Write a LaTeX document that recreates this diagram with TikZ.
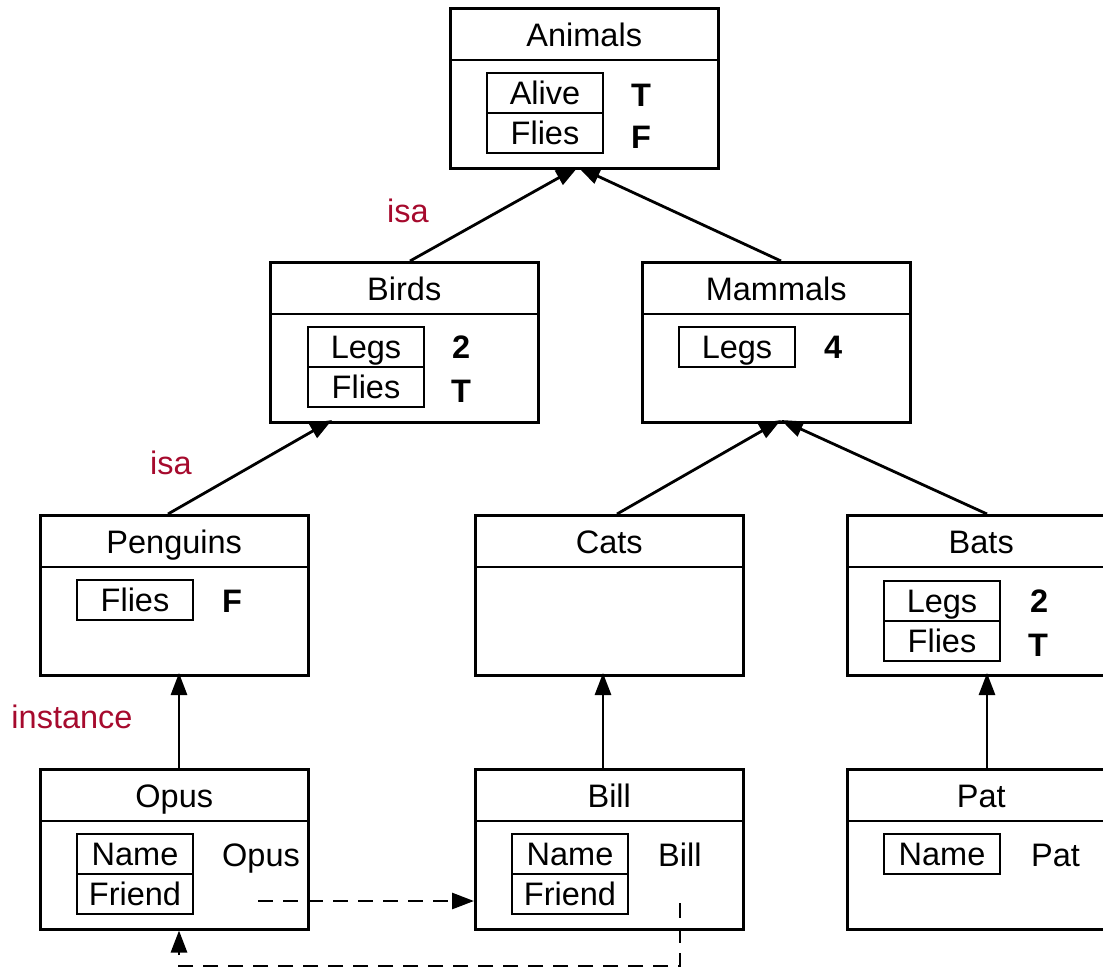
\documentclass[tikz,border=0pt]{standalone}
\usepackage{fontspec}
\setmainfont{Liberation Sans}
\usetikzlibrary{arrows.meta,calc}
\definecolor{isared}{RGB}{166,10,45}
\begin{document}
\begin{tikzpicture}[x=1pt,y=-1pt,
  every node/.style={font=\fontsize{32.5}{38}\selectfont, text height=23pt, text depth=0pt},
  frame/.style={draw, line width=2.5pt, minimum width=268pt, minimum height=160pt, inner sep=0pt, text height=0pt},
  title/.style={anchor=center},
  slot/.style={draw, line width=2pt, minimum width=116pt, minimum height=40pt, inner sep=0pt},
  val/.style={anchor=west, inner sep=0pt, font=\fontsize{32.5}{38}\selectfont\bfseries},
  plainval/.style={anchor=west, inner sep=0pt},
  lbl/.style={text=isared},
  link/.style={line width=2.8pt, -{Triangle[length=22pt,width=16pt]}},
  ref/.style={line width=2.8pt, dash pattern=on 15pt off 10pt, -{Triangle[length=22pt,width=16pt]}}]
\useasboundingbox (0,0) rectangle (1103,969);

% frame with a title bar: #1 name, #2 left, #3 top, #4 title
\newcommand\slotframe[4]{%
  \node[frame, anchor=north west] (#1) at (#2,#3) {};
  \draw[line width=2pt] ($(#1.north west)+(0,53)$) -- ($(#1.north east)+(0,53)$);
  \node[title] (#1-title) at ($(#1.north)+(0,28)$) {#4};}

\slotframe{animals}{449}{7}{Animals}
\slotframe{birds}{269}{261}{Birds}
\slotframe{mammals}{641}{261}{Mammals}
\slotframe{penguins}{39}{514}{Penguins}
\slotframe{cats}{474}{514}{Cats}
\slotframe{bats}{846}{514}{Bats}
\slotframe{opus}{39}{768}{Opus}
\slotframe{bill}{474}{768}{Bill}
\slotframe{pat}{846}{768}{Pat}

% Animals slots
\node[slot] (an-s1) at (545,93) {Alive};
\node[slot] (an-s2) at (545,133) {Flies};
\node[val] (an-v1) at (631,95) {T};
\node[val] (an-v2) at (631,137) {F};

% Birds slots
\node[slot] (bi-s1) at (366,347) {Legs};
\node[slot] (bi-s2) at (366,387) {Flies};
\node[val] (bi-v1) at (452,347) {2};
\node[val] (bi-v2) at (451,391) {T};

% Mammals slots
\node[slot] (ma-s1) at (737,347) {Legs};
\node[val] (ma-v1) at (824,347) {4};

% Penguins slots
\node[slot] (pe-s1) at (135,600) {Flies};
\node[val] (pe-v1) at (222,601) {F};

% Bats slots
\node[slot] (ba-s1) at (942,601) {Legs};
\node[slot] (ba-s2) at (942,641) {Flies};
\node[val] (ba-v1) at (1030,601) {2};
\node[val] (ba-v2) at (1028,645) {T};

% Opus slots
\node[slot] (op-s1) at (135,854) {Name};
\node[slot] (op-s2) at (135,894) {Friend};
\node[plainval] (op-v1) at (222,855) {Opus};

% Bill slots
\node[slot] (bl-s1) at (570,854) {Name};
\node[slot] (bl-s2) at (570,894) {Friend};
\node[plainval] (bl-v1) at (658,855) {Bill};

% Pat slots
\node[slot] (pa-s1) at (942,854) {Name};
\node[plainval] (pa-v1) at (1031,855) {Pat};

% relation labels
\node[lbl] (isa1) at (408,211) {isa};
\node[lbl] (isa2) at (171,463) {isa};
\node[lbl] (inst) at (72,717) {instance};

% hierarchy links
\coordinate (animals-in) at (578,167);
\coordinate (birds-in) at (332,420);
\coordinate (mammals-in) at (781,420);
\draw[link] (410,261) -- (animals-in);
\draw[link] (781,261) -- (animals-in);
\draw[link] (168,514) -- (birds-in);
\draw[link] (617,514) -- (mammals-in);
\draw[link] (987,514) -- (mammals-in);
\draw[link] (179,768) -- (179,673);
\draw[link] (603,768) -- (603,673);
\draw[link] (987,768) -- (987,673);

% friend references
\coordinate (opus-friend) at (258,901);
\coordinate (bill-friend) at (680,903);
\coordinate (loop-corner) at (680,966);
\draw[ref] (opus-friend) -- (opus-friend -| bill.west);
\draw[ref] (bill-friend) -- (loop-corner) -| (opus.south -| 179,0);
\end{tikzpicture}
\end{document}
